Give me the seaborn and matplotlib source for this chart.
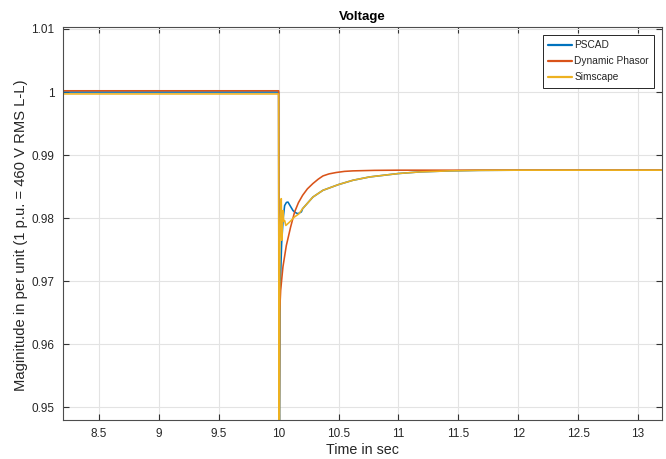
import matplotlib
matplotlib.use("Agg")
import matplotlib.pyplot as plt
import matplotlib.ticker as mticker
import seaborn as sns
import pandas as pd

# ---- data ----
pscad_t = [8.2, 10.0, 10.004, 10.012, 10.025, 10.038, 10.05, 10.065, 10.078, 10.095,
           10.12, 10.14, 10.16, 10.19, 10.2, 10.286, 10.37, 10.5, 10.62, 10.76,
           11.0, 11.18, 11.43, 11.67, 12.0, 12.5, 13.2]
pscad_v = [1.0, 1.0, 0.930, 0.9680, 0.9760, 0.9800, 0.9820, 0.9825, 0.98255, 0.9820,
           0.9812, 0.9809, 0.9807, 0.9810, 0.9815, 0.98335, 0.98442, 0.98533, 0.98601, 0.98654,
           0.98708, 0.98734, 0.98750, 0.98758, 0.98761, 0.98761, 0.98761]

dp_t = [8.2, 10.0, 10.003, 10.008, 10.017, 10.036, 10.064, 10.1, 10.133, 10.165,
        10.2, 10.24, 10.286, 10.33, 10.37, 10.42, 10.48, 10.55, 10.62, 10.8,
        11.0, 12.0, 13.2]
dp_v = [1.0002, 1.0002, 0.930, 0.9649, 0.9686, 0.9723, 0.97565, 0.9786, 0.98096, 0.98245,
        0.98362, 0.98465, 0.98549, 0.98618, 0.98670, 0.98702, 0.98724, 0.98742, 0.98750, 0.98758,
        0.98761, 0.98761, 0.98761]

sim_t = [8.2, 10.0, 10.004, 10.01, 10.016, 10.022, 10.026, 10.03, 10.036, 10.042,
         10.05, 10.06, 10.075, 10.09, 10.11, 10.13, 10.17, 10.2, 10.286, 10.37,
         10.5, 10.62, 10.76, 11.0, 11.18, 11.43, 11.67, 12.0, 12.5, 13.2]
sim_v = [0.9997, 0.9997, 0.930, 0.9755, 0.9800, 0.9831, 0.9765, 0.9790, 0.9812, 0.9795,
         0.97963, 0.97884, 0.97910, 0.97936, 0.97975, 0.98016, 0.9807, 0.9815, 0.98335, 0.98442,
         0.98533, 0.98601, 0.98654, 0.98708, 0.98734, 0.98750, 0.98758, 0.98761, 0.98761, 0.98761]

series_names = ["PSCAD", "Dynamic Phasor", "Simscape"]
series_colors = ["#0072BD", "#D95319", "#EDB120"]

x_ticks = [8.5, 9, 9.5, 10, 10.5, 11, 11.5, 12, 12.5, 13]
y_ticks = [0.95, 0.96, 0.97, 0.98, 0.99, 1.0, 1.01]

frames = []
for name, t, v in zip(series_names, [pscad_t, dp_t, sim_t], [pscad_v, dp_v, sim_v]):
    frames.append(pd.DataFrame({"t": t, "v": v, "series": name}))
df = pd.concat(frames, ignore_index=True)

sns.set_theme(style="whitegrid")
plt.rcParams["font.family"] = ["Liberation Sans", "DejaVu Sans"]

fig = plt.figure(figsize=(6.66, 4.59), dpi=100)
ax = fig.add_axes([0.0946, 0.085, 0.8994, 0.856])

sns.lineplot(data=df, x="t", y="v", hue="series", hue_order=series_names,
             palette=series_colors, estimator=None, sort=False, units="series",
             linewidth=1.15, ax=ax)

ax.set_xlim(8.2, 13.2)
ax.set_ylim(0.948, 1.0103)
ax.set_xticks(x_ticks)
ax.set_yticks(y_ticks)
fmt = mticker.FuncFormatter(lambda val, pos: f"{val:g}")
ax.xaxis.set_major_formatter(fmt)
ax.yaxis.set_major_formatter(fmt)

ax.grid(True, color="#e3e3e3", linewidth=0.8)
for s in ax.spines.values():
    s.set_color("#4d4d4d")
    s.set_linewidth(0.8)
ax.tick_params(direction="in", length=4, width=0.8, color="#333333",
               labelsize=8.5, labelcolor="#262626", top=True, right=True,
               bottom=True, left=True, pad=6)

ax.set_title("Voltage", fontsize=9.5, fontweight="bold", color="black", pad=5)
ax.set_xlabel("Time in sec", fontsize=10.3, color="#262626", labelpad=2)
ax.set_ylabel("Maginitude in per unit (1 p.u. = 460 V RMS L-L)", fontsize=10.6,
              color="#262626")
ax.yaxis.set_label_coords(-0.058, 0.47)

leg = ax.legend(loc="upper right", fontsize=7.3, frameon=True, fancybox=False,
                borderaxespad=0.75, handlelength=2.3, handletextpad=0.25,
                labelspacing=0.6, borderpad=0.55)
leg.get_frame().set_edgecolor("#262626")
leg.get_frame().set_linewidth(0.7)
leg.get_frame().set_alpha(1)
for line in leg.get_lines():
    line.set_linewidth(1.6)

fig.savefig("out.png", dpi=100)
